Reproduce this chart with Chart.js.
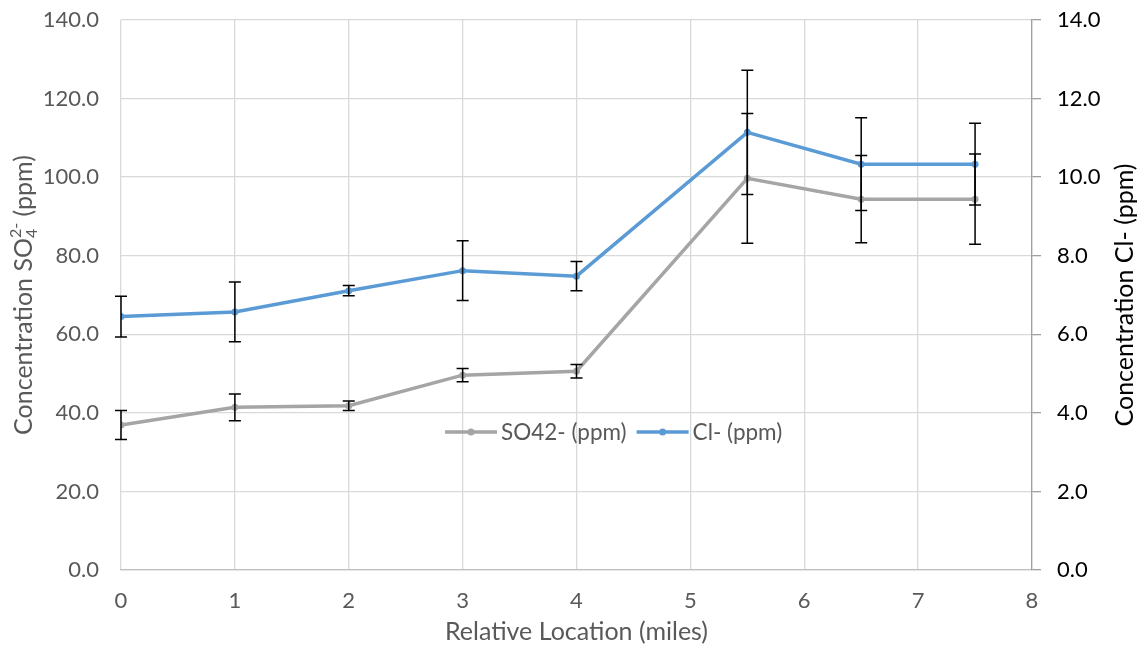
<!DOCTYPE html>
<html>
<head>
<meta charset="utf-8">
<script src="https://cdn.jsdelivr.net/npm/chart.js@4.4.1/dist/chart.umd.min.js"></script>
<style>
  body { margin: 0; background: #fff; }
  #wrap { width: 1143px; height: 648px; }
</style>
</head>
<body>
<div id="wrap"><canvas id="chart" width="1143" height="648"></canvas></div>
<script>
// relative location (miles)
var locations = [0, 1, 2, 3, 4, 5.5, 6.5, 7.5];
// sulfate, left axis
var so4 = [36.9, 41.4, 41.8, 49.6, 50.6, 99.7, 94.4, 94.4];
var so4Err = [3.7, 3.4, 1.2, 1.7, 1.7, 16.5, 11.1, 11.5];
// chloride, right axis
var cl = [6.45, 6.57, 7.11, 7.62, 7.48, 11.14, 10.33, 10.33];
var clErr = [0.52, 0.76, 0.13, 0.76, 0.37, 1.58, 1.18, 1.04];

var leftTicks = [0, 20, 40, 60, 80, 100, 120, 140];
var rightTicks = [0, 2, 4, 6, 8, 10, 12, 14];
var xTicks = [0, 1, 2, 3, 4, 5, 6, 7, 8];

var FONT = 'Lato, "Open Sans", sans-serif';
var GREY_TXT = '#595959';

function points(xs, ys) {
    var out = [];
    for (var i = 0; i < xs.length; i++) {
        out.push({x: xs[i], y: ys[i]});
    }
    return out;
}

var errorBars = {
    id: 'errorBars',
    afterDatasetsDraw: function(chart) {
        var ctx = chart.ctx;
        var xs = chart.scales.x;
        ctx.save();
        ctx.strokeStyle = '#000';
        ctx.lineWidth = 1.5;
        chart.data.datasets.forEach(function(ds) {
            var ys = chart.scales[ds.yAxisID];
            for (var i = 0; i < ds.data.length; i++) {
                var px = xs.getPixelForValue(ds.data[i].x);
                var top = ys.getPixelForValue(ds.data[i].y + ds.err[i]);
                var bot = ys.getPixelForValue(ds.data[i].y - ds.err[i]);
                ctx.beginPath();
                ctx.moveTo(px, top); ctx.lineTo(px, bot);
                ctx.moveTo(px - 6, top); ctx.lineTo(px + 6, top);
                ctx.moveTo(px - 6, bot); ctx.lineTo(px + 6, bot);
                ctx.stroke();
            }
        });
        ctx.restore();
    }
};

// legend sits inside the plot, and the axis titles need sub/superscripts
var extras = {
    id: 'extras',
    afterDraw: function(chart) {
        var ctx = chart.ctx;
        var a = chart.chartArea;
        ctx.save();
        ctx.font = '22.5px ' + FONT;
        ctx.textBaseline = 'middle';
        var lx = 445;
        var ly = a.top + (a.bottom - a.top) * 0.749;
        chart.data.datasets.forEach(function(ds) {
            ctx.strokeStyle = ds.borderColor;
            ctx.lineWidth = 3.5;
            ctx.beginPath();
            ctx.moveTo(lx, ly); ctx.lineTo(lx + 52, ly);
            ctx.stroke();
            ctx.fillStyle = ds.borderColor;
            ctx.beginPath();
            ctx.arc(lx + 26, ly, 3.5, 0, Math.PI * 2);
            ctx.fill();
            ctx.fillStyle = GREY_TXT;
            ctx.textAlign = 'left';
            ctx.fillText(ds.label, lx + 56, ly + 1);
            lx += 56 + ctx.measureText(ds.label).width + 10;
        });
        ctx.restore();

        // left title
        ctx.save();
        ctx.translate(24, (a.top + a.bottom) / 2);
        ctx.rotate(-Math.PI / 2);
        ctx.fillStyle = GREY_TXT;
        ctx.textBaseline = 'alphabetic';
        ctx.textAlign = 'left';
        var big = '25px ' + FONT, small = '16px ' + FONT;
        ctx.font = big;
        var w1 = ctx.measureText('Concentration SO').width;
        var w3 = ctx.measureText(' (ppm)').width;
        ctx.font = small;
        var w2 = Math.max(ctx.measureText('4').width, ctx.measureText('2-').width);
        var x0 = -(w1 + w2 + w3) / 2;
        var base = 8;
        ctx.font = big;
        ctx.fillText('Concentration SO', x0, base);
        ctx.font = small;
        ctx.fillText('4', x0 + w1, base + 5);
        ctx.fillText('2-', x0 + w1, base - 11);
        ctx.font = big;
        ctx.fillText(' (ppm)', x0 + w1 + w2, base);
        ctx.restore();

        // right title
        ctx.save();
        ctx.translate(1125, (a.top + a.bottom) / 2);
        ctx.rotate(-Math.PI / 2);
        ctx.fillStyle = '#000';
        ctx.font = '25px ' + FONT;
        ctx.textAlign = 'center';
        ctx.textBaseline = 'middle';
        ctx.fillText('Concentration Cl- (ppm)', 0, 0);
        ctx.restore();
    }
};

function fixWidth(w) {
    return function(s) {
        s.width = w;
        s.paddingTop = 0;
        s.paddingBottom = 0;
    };
}

var ctx = document.getElementById('chart').getContext('2d');
var myChart = new Chart(ctx, {
    type: 'line',
    data: {
        datasets: [{
            label: 'SO42- (ppm)',
            data: points(locations, so4),
            err: so4Err,
            yAxisID: 'y',
            borderColor: '#A5A5A5',
            backgroundColor: '#A5A5A5',
            borderWidth: 3.5,
            pointRadius: 3.5,
            pointBorderWidth: 0,
            pointBackgroundColor: '#A5A5A5',
            tension: 0
        },
        {
            label: 'Cl- (ppm)',
            data: points(locations, cl),
            err: clErr,
            yAxisID: 'y2',
            borderColor: '#5B9BD5',
            backgroundColor: '#5B9BD5',
            borderWidth: 3.5,
            pointRadius: 3.5,
            pointBorderWidth: 0,
            pointBackgroundColor: '#5B9BD5',
            tension: 0
        }]
    },
    options: {
        responsive: false,
        devicePixelRatio: 1,
        animation: false,
        layout: { padding: { top: 20, left: 0, right: 0, bottom: 0 } },
        plugins: { legend: { display: false }, tooltip: { enabled: false } },
        scales: {
            x: {
                type: 'linear',
                min: 0, max: 8,
                afterBuildTicks: function(s) { s.ticks = xTicks.map(function(v) { return {value: v}; }); },
                afterFit: function(s) { s.height = 78; s.paddingLeft = 0; s.paddingRight = 0; },
                grid: { color: '#D9D9D9', lineWidth: 1.3, drawTicks: false },
                border: { color: '#BFBFBF', width: 1.3 },
                ticks: { color: GREY_TXT, font: { family: FONT, size: 22 }, padding: 18 },
                title: { display: true, text: 'Relative Location (miles)', color: GREY_TXT,
                         font: { family: FONT, size: 25 }, padding: { top: 0, bottom: 1 } }
            },
            y: {
                position: 'left',
                min: 0, max: 140,
                afterBuildTicks: function(s) { s.ticks = leftTicks.map(function(v) { return {value: v}; }); },
                afterFit: fixWidth(121),
                grid: { color: '#D9D9D9', lineWidth: 1.3, drawTicks: false },
                border: { display: false },
                ticks: { color: GREY_TXT, font: { family: FONT, size: 22 }, padding: 22,
                         callback: function(v) { return v.toFixed(1); } }
            },
            y2: {
                position: 'right',
                min: 0, max: 14,
                afterBuildTicks: function(s) { s.ticks = rightTicks.map(function(v) { return {value: v}; }); },
                afterFit: fixWidth(111),
                grid: { drawOnChartArea: false, color: '#A0A0A0', tickLength: 9, lineWidth: 1.3 },
                border: { color: '#A0A0A0', width: 1.3 },
                ticks: { color: '#000', font: { family: FONT, size: 22 }, padding: 16,
                         callback: function(v) { return v.toFixed(1); } }
            }
        }
    },
    plugins: [errorBars, extras]
});
</script>
</body>
</html>
